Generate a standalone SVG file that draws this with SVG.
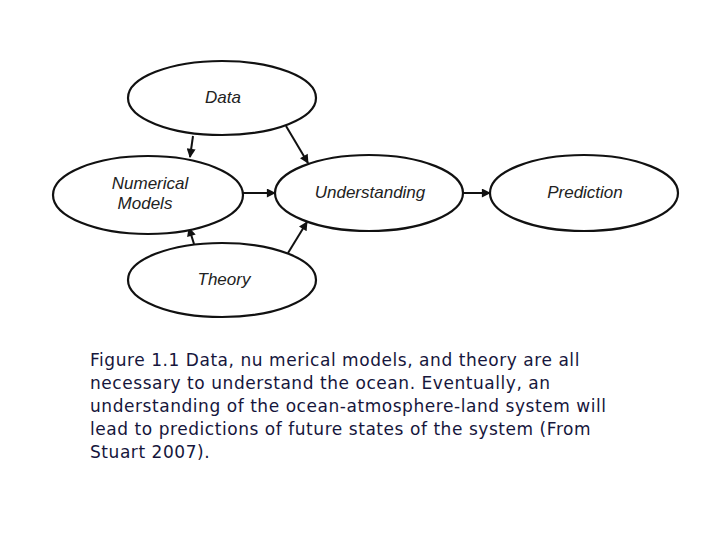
<svg xmlns="http://www.w3.org/2000/svg" width="720" height="540" viewBox="0 0 720 540">
<style>
.node ellipse{fill:#fff;stroke:#111;stroke-width:2.2}
.lbl{font-family:"Liberation Sans",Arial,sans-serif;font-style:italic;font-size:17px;fill:#222;text-anchor:middle}
.edge{stroke:#111;stroke-width:2;fill:none;marker-end:url(#ah)}
.cap{font-family:"DejaVu Sans",Verdana,sans-serif;font-size:17px;letter-spacing:0.55px;fill:#16163c}
</style>
<defs>
<marker id="ah" viewBox="0 0 10 10" refX="9" refY="5" markerWidth="11" markerHeight="9" orient="auto" markerUnits="userSpaceOnUse">
<path d="M0,0 L10,5 L0,10 z" fill="#111"/>
</marker>
</defs>
<rect width="720" height="540" fill="#fff"/>
<g id="connectors">
<line class="edge" x1="193" y1="136" x2="190" y2="157"/>
<line class="edge" x1="286" y1="126" x2="308" y2="163"/>
<line class="edge" x1="243" y1="193" x2="275" y2="193"/>
<line class="edge" x1="194" y1="244" x2="189" y2="228"/>
<line class="edge" x1="288" y1="253" x2="307" y2="222"/>
<line class="edge" x1="463" y1="193" x2="490" y2="193"/>
</g>
<g id="data" class="node"><ellipse cx="222" cy="98" rx="94" ry="37"/><text class="lbl" x="223" y="103">Data</text></g>
<g id="numerical" class="node"><ellipse cx="148" cy="195" rx="95" ry="39"/><text class="lbl" x="150" y="189">Numerical</text><text class="lbl" x="145" y="209">Models</text></g>
<g id="theory" class="node"><ellipse cx="222" cy="280" rx="94" ry="37"/><text class="lbl" x="224" y="285">Theory</text></g>
<g id="understanding" class="node"><ellipse cx="369" cy="193" rx="94" ry="38"/><text class="lbl" x="370" y="198">Understanding</text></g>
<g id="prediction" class="node"><ellipse cx="584" cy="193" rx="94" ry="38"/><text class="lbl" x="585" y="198">Prediction</text></g>
<g id="caption">
<text class="cap" x="90" y="366">Figure 1.1 Data, nu merical models, and theory are all</text>
<text class="cap" x="90" y="389">necessary to understand the ocean. Eventually, an</text>
<text class="cap" x="90" y="412">understanding of the ocean-atmosphere-land system will</text>
<text class="cap" x="90" y="435">lead to predictions of future states of the system (From</text>
<text class="cap" x="90" y="458">Stuart 2007).</text>
</g>
</svg>
